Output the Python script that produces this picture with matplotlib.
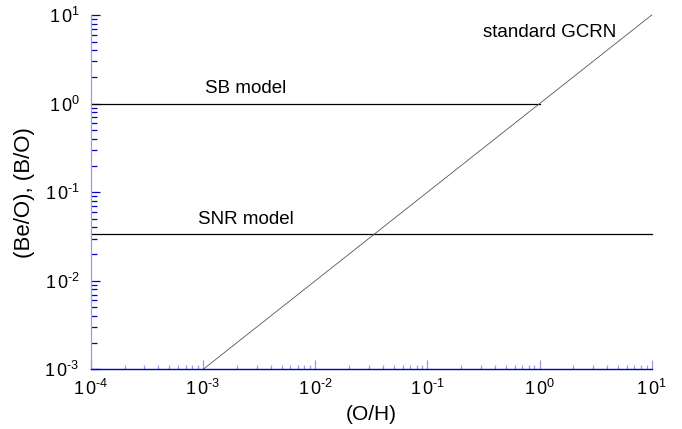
import numpy as np
import matplotlib
matplotlib.use("Agg")
import matplotlib.pyplot as plt
from matplotlib.ticker import LogLocator, FixedFormatter, NullFormatter

# betűtípus: Arial-szerű
plt.rcParams['font.family'] = ['Liberation Sans', 'DejaVu Sans']
plt.rcParams['mathtext.fontset'] = 'custom'
plt.rcParams['mathtext.rm'] = 'Liberation Sans'
plt.rcParams['mathtext.it'] = 'Liberation Sans'

# adatok
sb_x = [1e-4, 1.0]
sb_y = [1.0, 1.0]
snr_x = [1e-4, 10.0]
snr_y = [0.034, 0.034]
gcrn_x = [1e-3, 10.0]
gcrn_y = [1e-3, 10.0]

x_ticks = [1e-4, 1e-3, 1e-2, 1e-1, 1e0, 1e1]
x_exps = ['-4', '-3', '-2', '-1', '0', '1']
y_ticks = [1e-3, 1e-2, 1e-1, 1e0, 1e1]
y_exps = ['-3', '-2', '-1', '0', '1']

labels = ["SB model", "SNR model", "standard GCRN"]
label_pos = [(2.4e-3, 1.31), (2.4e-3, 0.0437), (1.24, 5.6)]

dark_blue = '#0000c8'
light_blue = '#9a9af0'


def tick_label(e):
    # kötőjel a mínusz jel helyett, mint az eredetin
    return r'$\mathregular{1\,0^{\text{' + e + r'}}}$'


fig = plt.figure(figsize=(6.82, 4.29), dpi=100)
ax = fig.add_axes([0.1334, 0.139, 0.8222, 0.826])

ax.plot(sb_x, sb_y, color='black', lw=0.9, clip_on=False)
ax.plot(snr_x, snr_y, color='black', lw=0.9, clip_on=False)
ax.plot(gcrn_x, gcrn_y, color='#555555', lw=0.6, clip_on=False)

ax.set_xscale('log')
ax.set_yscale('log')
ax.set_xlim(1e-4, 10)
ax.set_ylim(1e-3, 10)

ax.set_xticks(x_ticks)
ax.xaxis.set_major_formatter(FixedFormatter([tick_label(e) for e in x_exps]))
ax.set_yticks(y_ticks)
ax.yaxis.set_major_formatter(FixedFormatter([tick_label(e) for e in y_exps]))
ax.xaxis.set_minor_locator(LogLocator(base=10, subs=np.arange(2, 10), numticks=20))
ax.yaxis.set_minor_locator(LogLocator(base=10, subs=np.arange(2, 10), numticks=20))
ax.xaxis.set_minor_formatter(NullFormatter())
ax.yaxis.set_minor_formatter(NullFormatter())

# tengelyek
ax.spines['top'].set_visible(False)
ax.spines['right'].set_visible(False)
ax.spines['left'].set_color(light_blue)
ax.spines['bottom'].set_color(dark_blue)
ax.spines['left'].set_linewidth(0.9)
ax.spines['bottom'].set_linewidth(1.0)

ax.tick_params(axis='y', which='major', direction='in', length=6.5, width=0.9,
               color=dark_blue, labelsize=13, pad=8)
ax.tick_params(axis='y', which='minor', direction='in', length=4, width=0.9, color=dark_blue)
ax.tick_params(axis='x', which='major', direction='in', length=6.5, width=0.9,
               color=light_blue, labelsize=13, pad=7)
ax.tick_params(axis='x', which='minor', direction='in', length=3, width=0.9, color=light_blue)

ax.set_xlabel("(O/H)", fontsize=15, labelpad=4)
ax.set_ylabel("(Be/O), (B/O)", fontsize=16, labelpad=7)

for txt, (tx, ty) in zip(labels, label_pos):
    ax.text(tx, ty, txt, fontsize=13.5, ha='center', va='baseline')

fig.savefig("out.png", dpi=100)
